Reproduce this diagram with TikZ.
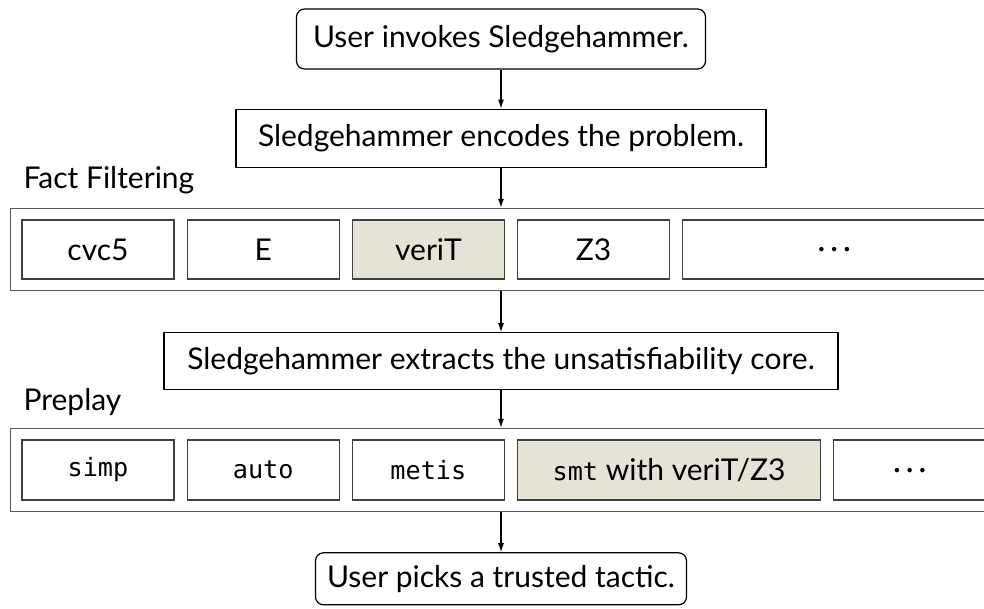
\documentclass[tikz,border=0pt]{standalone}
\usepackage{fontspec}
\setmainfont{Lato}
\newfontfamily\codefont{DejaVu Sans Mono}[Scale=0.84]
\usetikzlibrary{positioning, arrows.meta, fit}

\definecolor{chosen}{RGB}{229,226,214}
\newcommand{\moredots}{\smash{\raisebox{-9pt}{\textperiodcentered\hspace{5pt}\textperiodcentered\hspace{5pt}\textperiodcentered}}}

\begin{document}
\begin{tikzpicture}[
    x=1pt, y=1pt,
    every node/.style={font=\fontsize{30}{34}\selectfont},
    stepbox/.style={
        rectangle,
        draw=black,
        fill=white,
        minimum height=58pt,
        inner sep=0pt,
        line width=1.2pt
    },
    startbox/.style={stepbox, rounded corners=8pt},
    tool/.style={
        rectangle,
        draw=black!75,
        fill=white,
        minimum width=152pt,
        minimum height=59pt,
        inner sep=0pt,
        line width=1.2pt
    },
    widetool/.style={tool, minimum width=303pt},
    picked/.style={fill=chosen},
    frame/.style={
        rectangle,
        draw=black!65,
        inner sep=11pt,
        line width=1.2pt
    },
    phase/.style={anchor=base west},
    arrow/.style={
        -{Latex[length=9pt, width=6pt]},
        line width=1.2pt,
        color=black
    }
]
\useasboundingbox (0,0) rectangle (984,-608);

% ==================== INVOCATION ====================
\node[startbox, minimum width=409pt, minimum height=60pt] (invoke) at (501,-39) {User invokes Sledgehammer.};
\node[stepbox, minimum width=530pt, below=39pt of invoke] (encode) {Sledgehammer encodes the problem.};

% ==================== FACT FILTERING ====================
\node[phase] (filterlbl) at (20,-188) {Fact Filtering};
\node[tool] (cvc5) at (98,-249.5) {cvc5};
\node[tool, right=12pt of cvc5] (eprover) {E};
\node[tool, picked, right=12pt of eprover] (verit) {veriT};
\node[tool, right=12pt of verit] (zthree) {Z3};
\node[widetool, right=12pt of zthree] (moreprovers) {\moredots};
\node[frame, fit=(cvc5)(moreprovers)] (filtering) {};

% ==================== CORE EXTRACTION ====================
\node[stepbox, minimum width=674pt, minimum height=57pt, below=41pt of filtering.south -| invoke] (extract) {Sledgehammer extracts the unsatisfiability core.};

% ==================== PREPLAY ====================
\node[phase] (preplaylbl) at (20,-410) {Preplay};
\node[tool, minimum height=60pt] (simp) at (98,-470) {\codefont simp};
\node[tool, minimum height=60pt, right=12pt of simp] (auto) {\codefont auto};
\node[tool, minimum height=60pt, right=12pt of auto] (metis) {\codefont metis};
\node[widetool, picked, minimum height=60pt, right=12pt of metis] (smt) {{\codefont smt} with veriT/Z3};
\node[tool, minimum height=60pt, right=12pt of smt] (moretactics) {\moredots};
\node[frame, fit=(simp)(moretactics)] (preplay) {};

\node[startbox, minimum width=371pt, minimum height=52pt, below=40pt of preplay.south -| invoke] (pick) {User picks a trusted tactic.};

% ==================== FLOW ====================
\draw[arrow] (invoke) -- (encode);
\draw[arrow] (encode) -- (encode |- filtering.north);
\draw[arrow] (filtering.south -| extract) -- (extract);
\draw[arrow] (extract) -- (extract |- preplay.north);
\draw[arrow] (preplay.south -| pick) -- (pick);

\end{tikzpicture}
\end{document}
